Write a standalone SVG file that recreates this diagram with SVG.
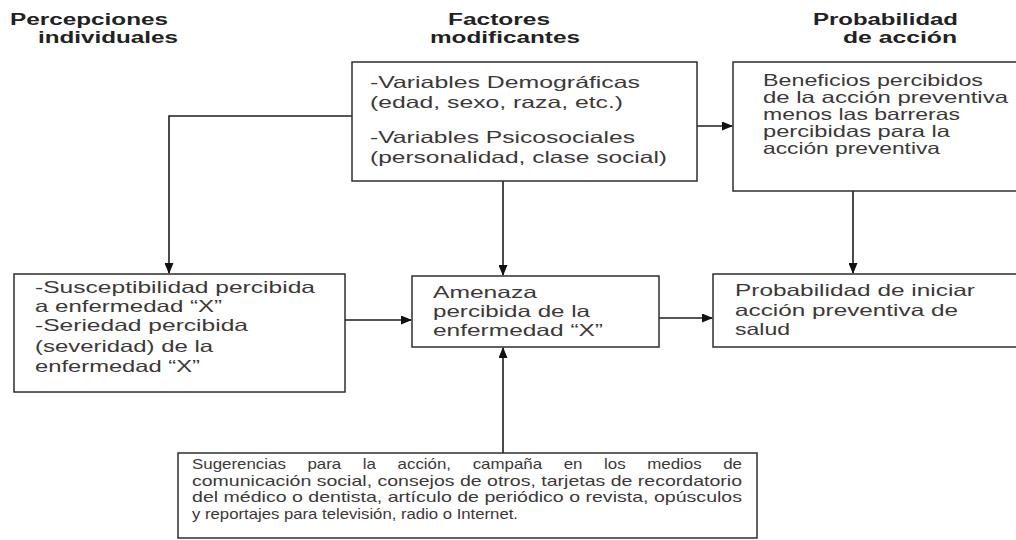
<svg xmlns="http://www.w3.org/2000/svg" width="1016" height="540" viewBox="0 0 1016 540">
<style>
.h{font-family:"Liberation Sans",Arial,sans-serif;font-size:16px;font-weight:bold;fill:#222}
.t{font-family:"Liberation Sans",Arial,sans-serif;font-size:16.5px;fill:#3c3838}
.s{font-family:"Liberation Sans",Arial,sans-serif;font-size:15px;fill:#3c3838}
.b{fill:#fff;stroke:#2e2e2e;stroke-width:1.5}
.c{fill:none;stroke:#1e1e1e;stroke-width:1.6}
</style>
<defs>
<marker id="ah" markerUnits="userSpaceOnUse" markerWidth="11" markerHeight="9" refX="10" refY="4.5" orient="auto">
<path d="M0,0 L11,4.5 L0,9 z" fill="#111"/>
</marker>
</defs>
<rect width="1016" height="540" fill="#fff"/>
<g id="headings">
<text class="h" x="10" y="25" textLength="158" lengthAdjust="spacingAndGlyphs">Percepciones</text>
<text class="h" x="38" y="43" textLength="140" lengthAdjust="spacingAndGlyphs">individuales</text>
<text class="h" x="448" y="25" textLength="102" lengthAdjust="spacingAndGlyphs">Factores</text>
<text class="h" x="430" y="43" textLength="150" lengthAdjust="spacingAndGlyphs">modificantes</text>
<text class="h" x="813" y="25" textLength="145" lengthAdjust="spacingAndGlyphs">Probabilidad</text>
<text class="h" x="843" y="43" textLength="114" lengthAdjust="spacingAndGlyphs">de acción</text>
</g>
<g id="connectors">
<path class="c" d="M352,116 H169 V273" marker-end="url(#ah)"/>
<path class="c" d="M503,181 V275" marker-end="url(#ah)"/>
<path class="c" d="M697,126 H732" marker-end="url(#ah)"/>
<path class="c" d="M853,191 V273" marker-end="url(#ah)"/>
<path class="c" d="M345,320 H411" marker-end="url(#ah)"/>
<path class="c" d="M659,318 H712" marker-end="url(#ah)"/>
<path class="c" d="M503,453 V348" marker-end="url(#ah)"/>
</g>
<g id="factores">
<rect class="b" x="352" y="62" width="345" height="119"/>
<text class="t" x="370" y="88" textLength="270" lengthAdjust="spacingAndGlyphs">-Variables Demográficas</text>
<text class="t" x="370" y="108" textLength="253" lengthAdjust="spacingAndGlyphs">(edad, sexo, raza, etc.)</text>
<text class="t" x="370" y="143" textLength="265" lengthAdjust="spacingAndGlyphs">-Variables Psicosociales</text>
<text class="t" x="370" y="163" textLength="297" lengthAdjust="spacingAndGlyphs">(personalidad, clase social)</text>
</g>
<g id="beneficios">
<rect class="b" x="733" y="62" width="300" height="129"/>
<text class="t" x="763" y="86" textLength="220" lengthAdjust="spacingAndGlyphs">Beneficios percibidos</text>
<text class="t" x="763" y="103" textLength="245" lengthAdjust="spacingAndGlyphs">de la acción preventiva</text>
<text class="t" x="763" y="120" textLength="197" lengthAdjust="spacingAndGlyphs">menos las barreras</text>
<text class="t" x="763" y="137" textLength="187" lengthAdjust="spacingAndGlyphs">percibidas para la</text>
<text class="t" x="763" y="154" textLength="177" lengthAdjust="spacingAndGlyphs">acción preventiva</text>
</g>
<g id="susceptibilidad">
<rect class="b" x="14" y="274" width="331" height="118"/>
<text class="t" x="35" y="293" textLength="280" lengthAdjust="spacingAndGlyphs">-Susceptibilidad percibida</text>
<text class="t" x="35" y="312" textLength="187" lengthAdjust="spacingAndGlyphs">a enfermedad “X”</text>
<text class="t" x="35" y="331" textLength="213" lengthAdjust="spacingAndGlyphs">-Seriedad percibida</text>
<text class="t" x="35" y="352" textLength="178" lengthAdjust="spacingAndGlyphs">(severidad) de la</text>
<text class="t" x="35" y="372" textLength="165" lengthAdjust="spacingAndGlyphs">enfermedad “X”</text>
</g>
<g id="amenaza">
<rect class="b" x="412" y="276" width="247" height="71"/>
<text class="t" x="433" y="298" textLength="104" lengthAdjust="spacingAndGlyphs">Amenaza</text>
<text class="t" x="433" y="317" textLength="157" lengthAdjust="spacingAndGlyphs">percibida de la</text>
<text class="t" x="433" y="336" textLength="170" lengthAdjust="spacingAndGlyphs">enfermedad “X”</text>
</g>
<g id="probabilidad">
<rect class="b" x="713" y="274" width="320" height="73"/>
<text class="t" x="735" y="296" textLength="240" lengthAdjust="spacingAndGlyphs">Probabilidad de iniciar</text>
<text class="t" x="735" y="316" textLength="223" lengthAdjust="spacingAndGlyphs">acción preventiva de</text>
<text class="t" x="735" y="335" textLength="55" lengthAdjust="spacingAndGlyphs">salud</text>
</g>
<g id="sugerencias">
<rect class="b" x="178" y="453" width="579" height="85"/>
<text class="s" x="192" y="469" textLength="550" lengthAdjust="spacingAndGlyphs" word-spacing="15">Sugerencias para la acción, campaña en los medios de</text>
<text class="s" x="192" y="485.5" textLength="550" lengthAdjust="spacingAndGlyphs">comunicación social, consejos de otros, tarjetas de recordatorio</text>
<text class="s" x="192" y="502" textLength="550" lengthAdjust="spacingAndGlyphs">del médico o dentista, artículo de periódico o revista, opúsculos</text>
<text class="s" x="192" y="518.5" textLength="326" lengthAdjust="spacingAndGlyphs">y reportajes para televisión, radio o Internet.</text>
</g>
</svg>
